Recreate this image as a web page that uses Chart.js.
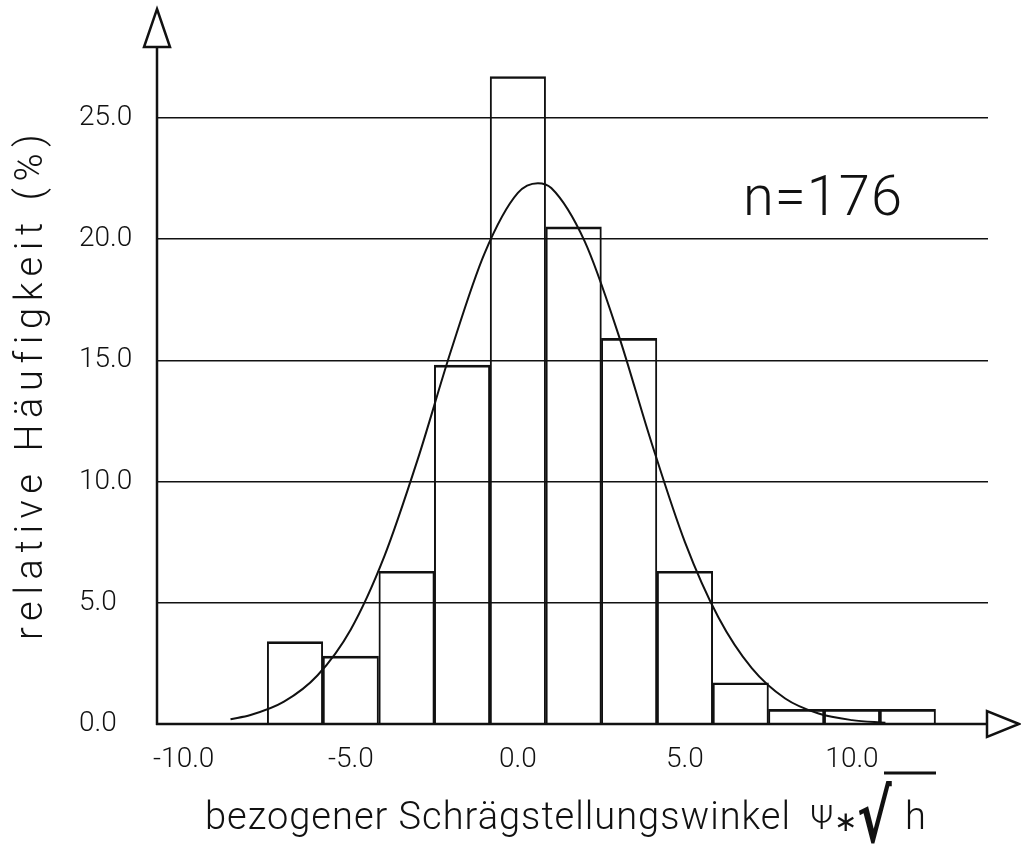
<!DOCTYPE html>
<html>
<head>
<meta charset="utf-8">
<script src="https://cdn.jsdelivr.net/npm/chart.js@4.4.1/dist/chart.umd.min.js"></script>
<style>
  html, body { margin: 0; padding: 0; background: #fff; }
  #wrap { width: 1021px; height: 853px; }
</style>
</head>
<body>
<div id="wrap"><canvas id="histChart" width="1021" height="853"></canvas></div>
<script>
// histogram bins (bin width 5/3), percent of n=176
var binCenters = [-6.67, -5.0, -3.33, -1.67, 0.0, 1.67, 3.33, 5.0, 6.67, 8.33, 10.0, 11.67];
var binPercent = [3.4, 2.8, 6.3, 14.8, 26.7, 20.5, 15.9, 6.3, 1.7, 0.6, 0.6, 0.6];

// fitted curve
var curveX = [-8.6, -8, -7, -6, -5, -4, -3, -2, -1, 0, 0.6, 1, 2, 3, 4, 5, 6, 7, 8, 9, 10, 11];
var curveY = [0.2, 0.37, 0.92, 2.0, 3.9, 6.9, 10.9, 15.4, 19.4, 21.9, 22.3, 22.1, 19.9, 16.1, 11.6, 7.5, 4.4, 2.3, 1.05, 0.43, 0.16, 0.05];

var xTicks = [-10, -5, 0, 5, 10];
var yTicks = [0, 5, 10, 15, 20, 25];
var xTitle = "bezogener Schrägstellungswinkel";
var yTitle = "relative Häufigkeit (%)";
var sampleNote = "n=176";

var FONT = "Roboto";
var INK = "#111";

function spacedText(ctx, text, x, y, width) {
  // stretch text over a given width with letter spacing
  ctx.letterSpacing = "0px";
  var w = ctx.measureText(text).width;
  var sp = (width - w) / (text.length - 1);
  ctx.letterSpacing = sp + "px";
  ctx.fillText(text, x, y);
  ctx.letterSpacing = "0px";
}

var decorations = {
  id: 'decorations',
  afterDraw: function (chart) {
    var ctx = chart.ctx, xs = chart.scales.x, ys = chart.scales.y;
    var x0 = xs.left, y0 = ys.getPixelForValue(0);
    ctx.save();
    ctx.strokeStyle = INK;
    ctx.lineWidth = 2.5;
    ctx.lineJoin = 'miter';

    // y axis with open arrow
    ctx.beginPath(); ctx.moveTo(x0, y0 + 1); ctx.lineTo(x0, 47); ctx.stroke();
    ctx.beginPath(); ctx.moveTo(x0, 9); ctx.lineTo(x0 + 13, 47); ctx.lineTo(x0 - 13, 47); ctx.closePath();
    ctx.fillStyle = '#fff'; ctx.fill(); ctx.stroke();

    // x axis with open arrow
    ctx.beginPath(); ctx.moveTo(x0 - 1, y0); ctx.lineTo(987, y0); ctx.stroke();
    ctx.beginPath(); ctx.moveTo(1019, y0); ctx.lineTo(987, y0 - 13); ctx.lineTo(987, y0 + 13); ctx.closePath();
    ctx.fillStyle = '#fff'; ctx.fill(); ctx.stroke();

    ctx.fillStyle = INK;
    ctx.textBaseline = 'alphabetic';
    ctx.textAlign = 'left';

    // n=176
    ctx.font = '300 56px ' + FONT;
    spacedText(ctx, sampleNote, 743, 215, 159);

    // y title
    ctx.save();
    ctx.translate(42, 640);
    ctx.rotate(-Math.PI / 2);
    ctx.font = '300 38px ' + FONT;
    spacedText(ctx, yTitle, 0, 0, 505);
    ctx.restore();

    // x title
    ctx.font = '300 38px ' + FONT;
    spacedText(ctx, xTitle, 205, 829, 585);
    ctx.font = '300 34px ' + FONT;
    ctx.fillText('\u03A8', 810, 829);
    ctx.font = '400 28px ' + FONT;
    ctx.fillText('\u2217', 834, 831);
    // radical sign, stretched up to the bar over h
    ctx.save();
    ctx.translate(857, 842);
    ctx.scale(1, 1.4);
    ctx.font = 'bold 52px "DejaVu Sans"';
    ctx.fillText('\u221A', 0, 0);
    ctx.restore();
    ctx.font = '300 38px ' + FONT;
    ctx.fillText('h', 905, 829);
    ctx.lineWidth = 3;
    ctx.beginPath(); ctx.moveTo(884, 773); ctx.lineTo(936, 773); ctx.stroke();
    ctx.restore();
  }
};

document.addEventListener("DOMContentLoaded", function () {
  var ctx = document.getElementById('histChart').getContext('2d');

  var barPoints = binCenters.map(function (c, i) { return { x: c, y: binPercent[i] }; });
  var curvePoints = curveX.map(function (c, i) { return { x: c, y: curveY[i] }; });

  var chart = new Chart(ctx, {
    type: 'bar',
    data: {
      datasets: [{
        type: 'line',
        data: curvePoints,
        borderColor: INK,
        borderWidth: 2,
        pointRadius: 0,
        fill: false,
        cubicInterpolationMode: 'monotone',
        order: 0
      }, {
        type: 'bar',
        data: barPoints,
        backgroundColor: 'rgba(0,0,0,0)',
        borderColor: INK,
        borderWidth: { top: 2, left: 1.3, right: 1.3, bottom: 0 },
        borderSkipped: false,
        barPercentage: 1,
        categoryPercentage: 1,
        order: 1
      }]
    },
    options: {
      responsive: false,
      animation: false,
      layout: { padding: { left: 79, right: 33, top: 45, bottom: 0 } },
      plugins: {
        legend: { display: false },
        tooltip: { enabled: false },
        title: { display: false }
      },
      scales: {
        x: {
          type: 'linear',
          offset: false,
          min: -10.8,
          max: 14.07,
          grid: { display: false, offset: false },
          border: { display: false },
          afterBuildTicks: function (scale) {
            scale.ticks = xTicks.map(function (v) { return { value: v }; });
          },
          afterFit: function (scale) { scale.height = 129; },
          ticks: {
            autoSkip: false,
            maxRotation: 0,
            padding: 11,
            color: INK,
            font: { family: FONT, size: 28, weight: 300 },
            callback: function (v) { return v.toFixed(1); }
          }
        },
        y: {
          type: 'linear',
          min: 0,
          max: 28,
          border: { display: false },
          grid: {
            drawTicks: false,
            lineWidth: 1.5,
            color: function (c) { return c.tick && c.tick.value === 0 ? 'rgba(0,0,0,0)' : INK; }
          },
          afterBuildTicks: function (scale) {
            scale.ticks = yTicks.map(function (v) { return { value: v }; });
          },
          afterFit: function (scale) { scale.width = 78; },
          ticks: {
            crossAlign: 'far',
            color: INK,
            font: { family: FONT, size: 28, weight: 300 },
            callback: function (v) { return v.toFixed(1); }
          }
        }
      }
    },
    plugins: [decorations]
  });
});
</script>
</body>
</html>
